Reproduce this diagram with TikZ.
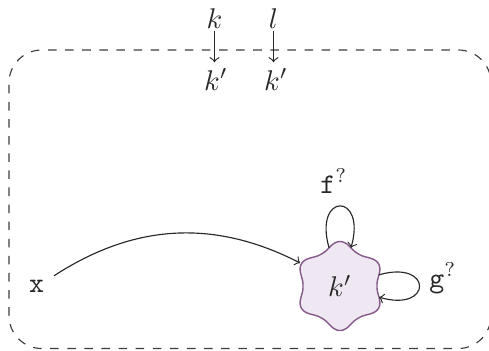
\documentclass[tikz,border=0pt]{standalone}
\definecolor{starfill}{RGB}{239,232,242}
\definecolor{stardraw}{RGB}{135,90,140}
\definecolor{ink}{RGB}{40,40,40}
\begin{document}
\begin{tikzpicture}[x=0.3509pt,y=0.3509pt,
  every node/.style={text=ink},
  lbl/.style={inner sep=2pt, anchor=base},
  conn/.style={draw=ink, line width=0.4pt, ->},
  frame/.style={draw=ink!90, dashed, line width=0.4pt, rounded corners=11.5pt},
  blob/.style={fill=starfill, draw=stardraw, line width=0.5pt}]
\useasboundingbox (0,0) rectangle (489,350);
\draw[frame] (9,1.5) rectangle (491,300);
% star-like blob
\draw[blob] plot[domain=0:359, samples=360]
  ({340+(37+7.5*pow(abs(sin(3*\x)),2.5))*cos(\x)}, {64+(37+7.5*pow(abs(sin(3*\x)),2.5))*sin(\x)}) -- cycle;
\node[circle, minimum size=31.9pt, inner sep=0] (kp) at (340,64) {$k'$};
% top nodes
\node[lbl, inner sep=0.8pt] (k) at (214.5,322) {$k$};
\node[lbl, inner sep=0.8pt] (l) at (273.5,322) {$l$};
\node[lbl] (k1) at (216,260) {$k'$};
\node[lbl] (k2) at (276,260) {$k'$};
\draw[conn] (k) -- (k1.north -| k);
\draw[conn] (l) -- (k2.north -| l);
% x
\node[anchor=base] (x) at (36.5,58) {\texttt{x}};
\draw[conn] (x) to[bend left=30] (kp);
% loops
\path (kp.center) ++(106:39.7) coordinate (f1);
\path (kp.center) ++(74:39.7) coordinate (f2);
\draw[conn] (f1) .. controls +(106:58) and +(74:58) .. (f2);
\path (kp.center) ++(16:40.6) coordinate (g1);
\path (kp.center) ++(-16:40.6) coordinate (g2);
\draw[conn] (g1) .. controls +(16:56) and +(-16:56) .. (g2);
\node[lbl] (f) at (334,157) {$\texttt{f}^?$};
\node[lbl] (g) at (443,63) {$\texttt{g}^?$};
\end{tikzpicture}
\end{document}
